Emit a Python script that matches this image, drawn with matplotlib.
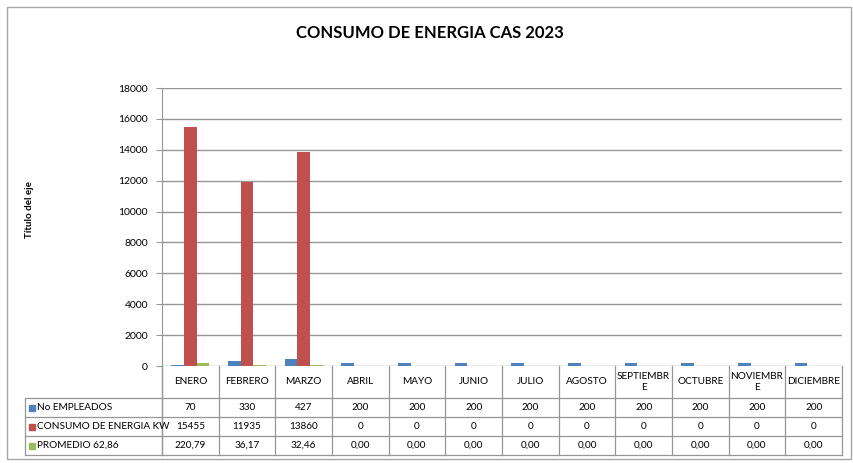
import matplotlib.pyplot as plt
import matplotlib.transforms as mtransforms
from matplotlib.patches import Rectangle
import numpy as np

plt.rcParams['font.family'] = ['Lato', 'DejaVu Sans']

meses = ['ENERO', 'FEBRERO', 'MARZO', 'ABRIL', 'MAYO', 'JUNIO', 'JULIO',
         'AGOSTO', 'SEPTIEMBR\nE', 'OCTUBRE', 'NOVIEMBR\nE', 'DICIEMBRE']
empleados = [70, 330, 427, 200, 200, 200, 200, 200, 200, 200, 200, 200]
consumo = [15455, 11935, 13860, 0, 0, 0, 0, 0, 0, 0, 0, 0]
promedio = [220.79, 36.17, 32.46, 0, 0, 0, 0, 0, 0, 0, 0, 0]

series_names = ['No EMPLEADOS', 'CONSUMO DE ENERGIA KW', 'PROMEDIO 62,86']
series_colors = ['#4F81BD', '#C0504D', '#9BBB59']

W, H = 854, 463
fig = plt.figure(figsize=(W / 100, H / 100), dpi=100)


def fx(px):
    return px / W


def fy(py):
    return 1 - py / H


# chart frame
fig.patches.append(Rectangle((fx(7), fy(459)), fx(844), (452) / H,
                             transform=fig.transFigure, fill=False,
                             edgecolor='#A6A6A6', lw=1))

left, right, top, bottom = 162, 842, 88, 366
ax = fig.add_axes([fx(left), fy(bottom), fx(right - left), (bottom - top) / H])

x = np.arange(len(meses))
w = 1 / 4.5
for k, vals in enumerate([empleados, consumo, promedio]):
    ax.bar(x + (k - 1) * w, vals, w, color=series_colors[k], zorder=3)

lc = '#969696'
ax.set_xlim(-0.5, len(meses) - 0.5)
ax.set_ylim(0, 18000)
ax.set_yticks(range(0, 18001, 2000))
ax.set_xticks([])
ax.grid(axis='y', color=lc, lw=1, zorder=0)
for s in ['top', 'right', 'bottom']:
    ax.spines[s].set_visible(False)
ax.spines['left'].set_color(lc)
ax.tick_params(axis='y', length=4, color=lc, labelsize=7.5, pad=6)

fig.text(0.503, fy(33), 'CONSUMO DE ENERGIA CAS 2023', ha='center',
         va='center', fontsize=12, fontweight='bold')
fig.text(fx(29), fy(210), 'Título del eje', rotation=90, ha='center',
         va='center', fontsize=7, fontweight='bold')

# data table
trans = mtransforms.blended_transform_factory(ax.transData, fig.transFigure)
rows_y = [366, 398, 417, 436, 455]
for yy in rows_y[1:]:
    fig.add_artist(plt.Line2D([fx(25), fx(right)], [fy(yy), fy(yy)],
                              transform=fig.transFigure, color=lc, lw=0.9))
fig.add_artist(plt.Line2D([fx(25), fx(25)], [fy(398), fy(455)],
                          transform=fig.transFigure, color=lc, lw=0.9))
for b in np.arange(-0.5, len(meses), 1.0):
    fig.add_artist(plt.Line2D([b, b], [fy(366), fy(455)], transform=trans,
                              color=lc, lw=0.9))
fig.add_artist(plt.Line2D([fx(left), fx(left)], [fy(366), fy(455)],
                          transform=fig.transFigure, color=lc, lw=0.9))

for i, m in enumerate(meses):
    fig.text(i, fy(382), m, transform=trans, ha='center', va='center',
             fontsize=7.2, linespacing=1.3)

table_rows = [[str(v) for v in empleados],
              [str(v) for v in consumo],
              [('%.2f' % v).replace('.', ',') for v in promedio]]
for r, vals in enumerate(table_rows):
    yc = (rows_y[r + 1] + rows_y[r + 2]) / 2
    fig.patches.append(Rectangle((fx(29), fy(yc + 3)), fx(6), 6 / H,
                                 transform=fig.transFigure,
                                 color=series_colors[r]))
    fig.text(fx(37), fy(yc), series_names[r], ha='left', va='center',
             fontsize=7.2)
    for i, v in enumerate(vals):
        fig.text(i, fy(yc), v, transform=trans, ha='center', va='center',
                 fontsize=7.2)

fig.savefig('out.png', dpi=100)
